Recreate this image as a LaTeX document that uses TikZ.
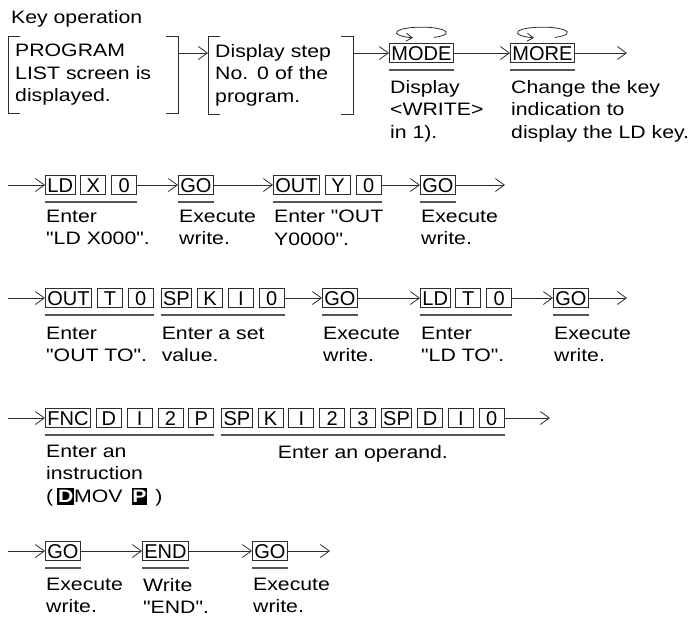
\documentclass[tikz,border=0pt]{standalone}
\usepackage{fontspec}
\setmainfont{Liberation Sans}
\newfontfamily\notefamily[FakeStretch=1.18]{Liberation Sans}
\usepackage{tikz}
\usetikzlibrary{arrows.meta, positioning, calc}
\definecolor{inkgray}{RGB}{45,45,45}
\definecolor{rulegray}{RGB}{85,85,85}
\newcommand{\keyfont}{\fontsize{20}{22}\selectfont}
\newcommand{\notefont}{\notefamily\fontsize{18}{22.5}\selectfont}
\newcommand{\revkey}[1]{{\setlength{\fboxsep}{0.8pt}\colorbox{black}{\rule[-1.5pt]{0pt}{15.5pt}\textcolor{white}{\fontsize{18}{20}\selectfont\bfseries #1}}}}
\tikzset{
  keybox/.style={rectangle, draw=inkgray, line width=0.8pt, font=\keyfont,
                 inner xsep=2pt, inner ysep=0pt, text height=14.3pt, text depth=0pt,
                 minimum width=25pt, minimum height=19pt},
  note/.style={inner sep=0pt, align=left, font=\notefont, anchor=north west},
  textbox/.style={rectangle, inner xsep=7pt, inner ysep=8pt, align=left,
                  font=\notefont, anchor=north west},
  flow/.style={-{Straight Barb[length=9pt, width=13pt]}, line width=0.8pt, draw=inkgray},
  spin/.style={-{Straight Barb[length=6pt, width=8pt]}, line width=0.8pt, draw=inkgray},
  uline/.style={line width=1.5pt, draw=rulegray},
  bracket/.style={line width=0.8pt, draw=inkgray},
}

\begin{document}
\begin{tikzpicture}[x=1pt, y=1pt]
  \useasboundingbox (0,0) rectangle (698,-622);

  % Row 1: screen selection
  \node[note] (keyop) at (11,-10) {Key operation};
  \node[textbox, text width=156pt] (listscr) at (8,-36)
    {PROGRAM\\LIST screen is\\displayed.};
  \node[textbox, text width=131pt] (stepzero) at (208,-36)
    {Display step\\No. 0 of the\\program.};

  % Brackets
  \draw[bracket] ([xshift=12pt]listscr.north west) -- (listscr.north west)
    -- (listscr.south west) -- ++(12,0);
  \draw[bracket] ([xshift=-12pt]listscr.north east) -- (listscr.north east)
    -- (listscr.south east) -- ++(-12,0);
  \draw[bracket] ([xshift=12pt]stepzero.north west) -- (stepzero.north west)
    -- (stepzero.south west) -- ++(12,0);
  \draw[bracket] ([xshift=-12pt]stepzero.north east) -- (stepzero.north east)
    -- (stepzero.south east) -- ++(-12,0);

  \node[keybox, anchor=west] (mode) at (389,-53) {MODE};
  \node[keybox, anchor=west] (more) at (510,-53) {MORE};
  \coordinate (fin1) at (627,-53);

  \draw[flow] ([yshift=-17pt]listscr.north east) -- ([yshift=-17pt]stepzero.north west);
  \draw[flow] ([yshift=-17pt]stepzero.north east) -- (mode.west);
  \draw[flow] (mode) -- (more);
  \draw[flow] (more) -- (fin1);

  % Loops on the keys
  \draw[spin] ([shift={(12.5,5.7)}]mode.north)
    arc[start angle=-60, end angle=250, x radius=25, y radius=5.5];
  \draw[spin] ([shift={(12.5,5.7)}]more.north)
    arc[start angle=-60, end angle=250, x radius=25, y radius=5.5];

  \draw[uline] ([yshift=-7pt]mode.south west) -- ([yshift=-7pt]mode.south east);
  \draw[uline] ([yshift=-7pt]more.south west) -- ([yshift=-7pt]more.south east);

  \node[note, below right=17pt and 1pt of mode.south west] (tmode)
    {Display\\<WRITE>\\in 1).};
  \node[note, below right=17pt and 1pt of more.south west] (tmore)
    {Change the key\\indication to\\display the LD key.};

  % Row 2: LD X0 / OUT Y0
  \coordinate (start2) at (8,-185);
  \node[keybox, anchor=west] (ld2) at (45,-185) {LD};
  \node[keybox, right=5pt of ld2] (x2) {X};
  \node[keybox, right=5pt of x2] (zero2) {0};
  \node[keybox, anchor=west] (go2) at (178,-185) {GO};
  \node[keybox, anchor=west] (out2) at (273,-185) {OUT};
  \node[keybox, right=5pt of out2] (y2) {Y};
  \node[keybox, right=5pt of y2] (zero2b) {0};
  \node[keybox, anchor=west] (go2b) at (420,-185) {GO};
  \coordinate (fin2) at (505,-185);

  \draw[flow] (start2) -- (ld2);
  \draw[flow] (zero2) -- (go2);
  \draw[flow] (go2) -- (out2);
  \draw[flow] (zero2b) -- (go2b);
  \draw[flow] (go2b) -- (fin2);

  \draw[uline] ([yshift=-7pt]ld2.south west) -- ([yshift=-7pt]zero2.south east);
  \draw[uline] ([yshift=-7pt]go2.south west) -- ([yshift=-7pt]go2.south east);
  \draw[uline] ([yshift=-7pt]out2.south west) -- ([yshift=-7pt]zero2b.south east);
  \draw[uline] ([yshift=-7pt]go2b.south west) -- ([yshift=-7pt]go2b.south east);

  \node[note, below right=15pt and 1pt of ld2.south west] (tld2) {Enter\\"LD X000".};
  \node[note, below right=15pt and 1pt of go2.south west] (tgo2) {Execute\\write.};
  \node[note, below right=15pt and 1pt of out2.south west] (tout2) {Enter "OUT\\Y0000".};
  \node[note, below right=15pt and 1pt of go2b.south west] (tgo2b) {Execute\\write.};

  % Row 3: OUT T0 SP K10 / LD T0
  \coordinate (start3) at (8,-298);
  \node[keybox, anchor=west] (out3) at (45,-298) {OUT};
  \node[keybox, right=5pt of out3] (t3) {T};
  \node[keybox, right=5pt of t3] (zero3) {0};
  \node[keybox, right=7pt of zero3] (sp3) {SP};
  \node[keybox, right=5pt of sp3] (k3) {K};
  \node[keybox, right=5pt of k3] (i3) {I};
  \node[keybox, right=5pt of i3] (zero3b) {0};
  \node[keybox, anchor=west] (go3) at (322,-298) {GO};
  \node[keybox, anchor=west] (ld3) at (420,-298) {LD};
  \node[keybox, right=5pt of ld3] (t3b) {T};
  \node[keybox, right=5pt of t3b] (zero3c) {0};
  \node[keybox, anchor=west] (go3b) at (553,-298) {GO};
  \coordinate (fin3) at (627,-298);

  \draw[flow] (start3) -- (out3);
  \draw[flow] (zero3b) -- (go3);
  \draw[flow] (go3) -- (ld3);
  \draw[flow] (zero3c) -- (go3b);
  \draw[flow] (go3b) -- (fin3);

  \draw[uline] ([yshift=-7pt]out3.south west) -- ([yshift=-7pt]zero3.south east);
  \draw[uline] ([yshift=-7pt]sp3.south west) -- ([yshift=-7pt]zero3b.south east);
  \draw[uline] ([yshift=-7pt]go3.south west) -- ([yshift=-7pt]go3.south east);
  \draw[uline] ([yshift=-7pt]ld3.south west) -- ([yshift=-7pt]zero3c.south east);
  \draw[uline] ([yshift=-7pt]go3b.south west) -- ([yshift=-7pt]go3b.south east);

  \node[note, below right=19pt and 1pt of out3.south west] (tout3) {Enter\\"OUT TO".};
  \node[note, below right=19pt and 1pt of sp3.south west] (tsp3) {Enter a set\\value.};
  \node[note, below right=19pt and 1pt of go3.south west] (tgo3) {Execute\\write.};
  \node[note, below right=19pt and 1pt of ld3.south west] (tld3) {Enter\\"LD TO".};
  \node[note, below right=19pt and 1pt of go3b.south west] (tgo3b) {Execute\\write.};

  % Row 4: FNC D12P SP K123 SP D10
  \coordinate (start4) at (8,-418);
  \node[keybox, anchor=west] (fnc4) at (45,-418) {FNC};
  \node[keybox, right=5pt of fnc4] (d4) {D};
  \node[keybox, right=5pt of d4] (i4) {I};
  \node[keybox, right=5pt of i4] (two4) {2};
  \node[keybox, right=5pt of two4] (p4) {P};
  \node[keybox, right=7pt of p4] (sp4) {SP};
  \node[keybox, right=5pt of sp4] (k4) {K};
  \node[keybox, right=5pt of k4] (i4b) {I};
  \node[keybox, right=5pt of i4b] (two4b) {2};
  \node[keybox, right=5pt of two4b] (three4) {3};
  \node[keybox, right=5pt of three4] (sp4b) {SP};
  \node[keybox, right=5pt of sp4b] (d4b) {D};
  \node[keybox, right=5pt of d4b] (i4c) {I};
  \node[keybox, right=5pt of i4c] (zero4) {0};
  \coordinate (fin4) at (550,-418);

  \draw[flow] (start4) -- (fnc4);
  \draw[flow] (zero4) -- (fin4);

  \draw[uline] ([yshift=-7pt]fnc4.south west) -- ([yshift=-7pt]p4.south east);
  \draw[uline] ([yshift=-7pt]sp4.south west) -- ([yshift=-7pt]zero4.south east);

  \node[note, below right=17pt and 1pt of fnc4.south west] (tfnc4)
    {Enter an\\instruction\\(\hspace{4pt}\revkey{D}MOV\hspace{9pt}\revkey{P}\hspace{8pt})};
  \node[note, anchor=north] (toper4)
    at ($(sp4.south west)!0.5!(zero4.south east)+(0,-17)$) {Enter an operand.};

  % Row 5: GO END GO
  \coordinate (start5) at (8,-551);
  \node[keybox, anchor=west] (go5) at (45,-551) {GO};
  \node[keybox, anchor=west] (endkey5) at (142,-551) {END};
  \node[keybox, anchor=west] (go5b) at (252,-551) {GO};
  \coordinate (fin5) at (330,-551);

  \draw[flow] (start5) -- (go5);
  \draw[flow] (go5) -- (endkey5);
  \draw[flow] (endkey5) -- (go5b);
  \draw[flow] (go5b) -- (fin5);

  \draw[uline] ([yshift=-7pt]go5.south west) -- ([yshift=-7pt]go5.south east);
  \draw[uline] ([yshift=-7pt]endkey5.south west) -- ([yshift=-7pt]endkey5.south east);
  \draw[uline] ([yshift=-7pt]go5b.south west) -- ([yshift=-7pt]go5b.south east);

  \node[note, below right=17pt and 1pt of go5.south west] (tgo5) {Execute\\write.};
  \node[note, below right=17pt and 1pt of endkey5.south west] (tend5) {Write\\"END".};
  \node[note, below right=17pt and 1pt of go5b.south west] (tgo5b) {Execute\\write.};
\end{tikzpicture}
\end{document}
